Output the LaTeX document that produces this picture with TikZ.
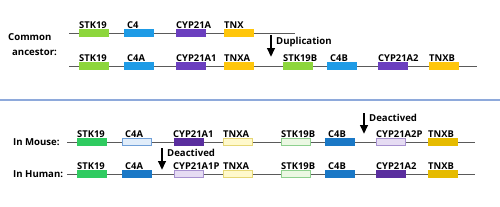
\documentclass[tikz,border=0pt]{standalone}
\usepackage{fontspec}
\setmainfont{Open Sans}
\usetikzlibrary{arrows.meta, positioning}
\definecolor{stklight}{HTML}{8DD63C}
\definecolor{stkgreen}{HTML}{2FCB60}
\definecolor{stkpale}{HTML}{EBF8E3}
\definecolor{stkedge}{HTML}{8ED08E}
\definecolor{cfourblue}{HTML}{1E9BE6}
\definecolor{cfourdark}{HTML}{1A78C6}
\definecolor{cfourpale}{HTML}{E1EDFA}
\definecolor{cfouredge}{HTML}{6F9FD8}
\definecolor{cyppurple}{HTML}{6B3FBF}
\definecolor{cypdark}{HTML}{5A2E9E}
\definecolor{cyppale}{HTML}{E6DCF3}
\definecolor{cypedge}{HTML}{A892D0}
\definecolor{tnxyellow}{HTML}{FFC60B}
\definecolor{tnxgold}{HTML}{E6BB00}
\definecolor{tnxpale}{HTML}{FFF9CC}
\definecolor{tnxedge}{HTML}{E6D775}
\definecolor{backgray}{HTML}{5A5A5A}
\definecolor{sepblue}{HTML}{8EA9DB}

\tikzset{
  gene/.style 2 args={draw=#1, fill=#2, line width=0.6pt, minimum width=29pt,
    minimum height=6.5pt, inner sep=0pt, anchor=west},
  tag/.style={font=\bfseries\fontsize{9.4}{10}\selectfont, anchor=base west,
    inner sep=0pt, yshift=1.2pt},
  side/.style={font=\bfseries\fontsize{9.6}{10}\selectfont, anchor=west, inner sep=0pt},
  backbone/.style={draw=backgray, line width=0.8pt},
  event/.style={-{Triangle[length=9pt,width=7.5pt]}, line width=2.8pt},
}

\begin{document}
\begin{tikzpicture}[x=1pt, y=-1pt]
\useasboundingbox (0,0) rectangle (500,206);

% common ancestor
\node[side] (comA) at (8,37) {Common};
\node[side] (comB) at (12,52) {ancestor:};
\coordinate (a0) at (69,33);
\coordinate (aE) at (295,33);
\draw[backbone] (a0) -- (aE);
\foreach \x/\dc/\fc/\t/\s [count=\i] in {79/stklight/stklight/STK19/0,
    124/cfourblue/cfourblue/C4/3, 176/cyppurple/cyppurple/CYP21A/0,
    224/tnxyellow/tnxyellow/TNX/0}
{
  \node[gene={\dc}{\fc}] (a\i) at (\x,33) {};
  \node[tag, xshift=\s pt] (at\i) at (a\i.north west) {\t};
}

% after duplication
\coordinate (d0) at (69,66);
\coordinate (dE) at (477,66);
\draw[backbone] (d0) -- (dE);
\foreach \x/\dc/\fc/\t/\s [count=\i] in {79/stklight/stklight/STK19/0,
    124/cfourblue/cfourblue/C4A/3, 176/cyppurple/cyppurple/CYP21A1/0,
    224/tnxyellow/tnxyellow/TNXA/0, 283/stklight/stklight/STK19B/0,
    327/cfourblue/cfourblue/C4B/3, 378/cyppurple/cyppurple/CYP21A2/0,
    429/tnxyellow/tnxyellow/TNXB/0}
{
  \node[gene={\dc}{\fc}] (d\i) at (\x,66) {};
  \node[tag, xshift=\s pt] (dt\i) at (d\i.north west) {\t};
}

\coordinate (dupS) at (271,35);
\coordinate (dupE) at (271,57);
\draw[event] (dupS) -- (dupE);
\node[side] (dupT) at (276,42) {Duplication};

\draw[sepblue, line width=1.2pt] (0,100) -- (500,100);

% mouse
\node[side] (mouT) at (13,142) {In Mouse:};
\coordinate (m0) at (67,142);
\coordinate (mE) at (475,142);
\draw[backbone] (m0) -- (mE);
\foreach \x/\dc/\fc/\t/\s [count=\i] in {77/stkgreen/stkgreen/STK19/0,
    122/cfouredge/cfourpale/C4A/3, 174/cypdark/cypdark/CYP21A1/-1,
    223/tnxedge/tnxpale/TNXA/0, 281/stkedge/stkpale/STK19B/0,
    325/cfourdark/cfourdark/C4B/3, 376/cypedge/cyppale/CYP21A2P/0,
    428/tnxgold/tnxgold/TNXB/0}
{
  \node[gene={\dc}{\fc}] (m\i) at (\x,142) {};
  \node[tag, xshift=\s pt] (mt\i) at (m\i.north west) {\t};
}

% human
\node[side] (humT) at (13,174) {In Human:};
\coordinate (h0) at (67,174);
\coordinate (hE) at (475,174);
\draw[backbone] (h0) -- (hE);
\foreach \x/\dc/\fc/\t/\s [count=\i] in {77/stkgreen/stkgreen/STK19/0,
    122/cfourdark/cfourdark/C4A/3, 174/cypedge/cyppale/CYP21A1P/-1,
    223/tnxedge/tnxpale/TNXA/0, 281/stkedge/stkpale/STK19B/0,
    325/cfourdark/cfourdark/C4B/3, 376/cypdark/cypdark/CYP21A2/0,
    428/tnxgold/tnxgold/TNXB/0}
{
  \node[gene={\dc}{\fc}] (h\i) at (\x,174) {};
  \node[tag, xshift=\s pt] (ht\i) at (h\i.north west) {\t};
}

\coordinate (deaMS) at (364,113);
\coordinate (deaME) at (364,134);
\draw[event] (deaMS) -- (deaME);
\node[side] (deaMT) at (369,118) {Deactived};

\coordinate (deaHS) at (162,148);
\coordinate (deaHE) at (162,170);
\draw[event] (deaHS) -- (deaHE);
\node[side] (deaHT) at (167,153) {Deactived};
\end{tikzpicture}
\end{document}
